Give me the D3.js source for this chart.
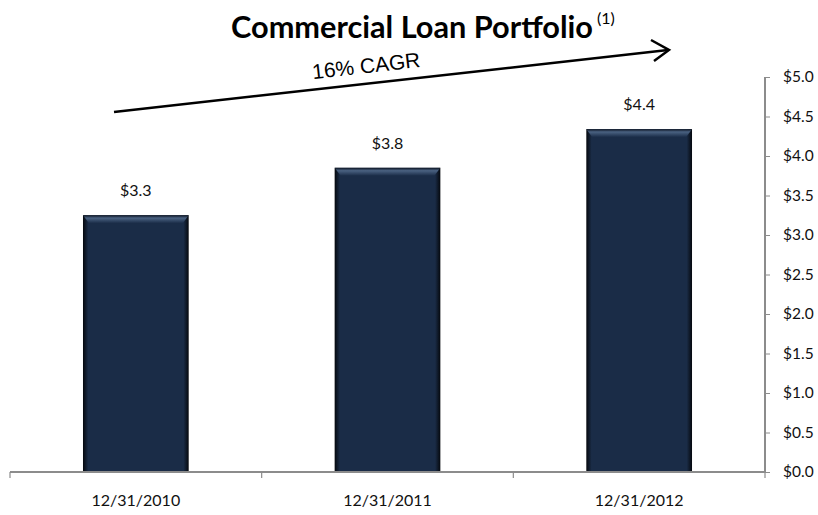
<!DOCTYPE html>
<html>
<head>
<meta charset="utf-8">
<script src="https://cdn.jsdelivr.net/npm/d3@7"></script>
<style>
  body { margin: 0; background: #fff; }
</style>
</head>
<body>
<svg width="818" height="515" font-family="Lato, 'Open Sans', sans-serif"></svg>
<script>
'use strict'

const categories = ['12/31/2010', '12/31/2011', '12/31/2012'];
const values = [3.25, 3.85, 4.34];
const valueLabels = ['$3.3', '$3.8', '$4.4'];
const yTicks = [0, 0.5, 1, 1.5, 2, 2.5, 3, 3.5, 4, 4.5, 5];

const svg = d3.select('svg');
const plotLeft = 10, plotRight = 765, plotTop = 77, plotBottom = 472;

const x = d3.scaleBand().domain(categories).range([plotLeft, plotRight]).paddingInner(0.58).paddingOuter(0.29);
const y = d3.scaleLinear().domain([0, 5]).range([plotBottom, plotTop]);

const defs = svg.append('defs');
const side = defs.append('linearGradient').attr('id', 'side');
side.append('stop').attr('offset', '0%').attr('stop-color', '#05080d');
side.append('stop').attr('offset', '5%').attr('stop-color', '#1a2c47');
side.append('stop').attr('offset', '95%').attr('stop-color', '#1a2c47');
side.append('stop').attr('offset', '100%').attr('stop-color', '#05080d');
const topG = defs.append('linearGradient').attr('id', 'topg').attr('x1', 0).attr('x2', 0).attr('y1', 0).attr('y2', 1);
topG.append('stop').attr('offset', '0%').attr('stop-color', '#0a1220');
topG.append('stop').attr('offset', '35%').attr('stop-color', '#4a6282');
topG.append('stop').attr('offset', '100%').attr('stop-color', '#1a2c47');

// bars
const bars = svg.append('g');
bars.selectAll('rect.body')
  .data(values)
  .join('rect')
  .attr('class', 'body')
  .attr('x', (d, i) => x(categories[i]))
  .attr('y', d => y(d))
  .attr('width', x.bandwidth())
  .attr('height', d => plotBottom - y(d))
  .attr('fill', 'url(#side)');
bars.selectAll('path.bevel')
  .data(values)
  .join('path')
  .attr('class', 'bevel')
  .attr('d', (d, i) => {
    const x0 = x(categories[i]), x1 = x0 + x.bandwidth(), y0 = y(d);
    return `M${x0},${y0}L${x1},${y0}L${x1 - 6},${y0 + 8}L${x0 + 6},${y0 + 8}Z`;
  })
  .attr('fill', 'url(#topg)');

// value labels
svg.selectAll('text.val')
  .data(values)
  .join('text')
  .attr('class', 'val')
  .attr('x', (d, i) => x(categories[i]) + x.bandwidth() / 2)
  .attr('y', d => y(d) - 19)
  .attr('text-anchor', 'middle')
  .attr('font-size', 16)
  .attr('fill', '#111')
  .text((d, i) => valueLabels[i]);

// y axis on the right
const yAxis = svg.append('g')
  .attr('transform', `translate(${plotRight},0)`)
  .call(d3.axisRight(y).tickValues(yTicks).tickSize(5).tickPadding(13)
    .tickFormat(d => '$' + d3.format('.1f')(d)));
yAxis.select('.domain').attr('stroke', '#8c8c8c').attr('stroke-width', 2).attr('d', `M0,${plotTop}V${plotBottom}`);
yAxis.selectAll('.tick line').attr('stroke', '#8c8c8c');
yAxis.selectAll('.tick text').attr('font-size', 15.5).attr('fill', '#111').attr('font-family', 'Lato, sans-serif');

// x axis
const xAxis = svg.append('g').attr('transform', `translate(0,${plotBottom})`);
xAxis.append('line').attr('x1', plotLeft).attr('x2', plotRight).attr('stroke', '#8c8c8c').attr('stroke-width', 2);
const bounds = [plotLeft].concat(categories.map(c => x(c) + x.bandwidth() + x.step() * x.paddingInner() / 2));
bounds[bounds.length - 1] = plotRight;
xAxis.selectAll('line.tk').data(bounds).join('line').attr('class', 'tk')
  .attr('x1', d => d).attr('x2', d => d).attr('y1', 0).attr('y2', 6)
  .attr('stroke', '#8c8c8c').attr('stroke-width', 1.2);
xAxis.selectAll('text').data(categories).join('text')
  .attr('x', d => x(d) + x.bandwidth() / 2)
  .attr('y', 34)
  .attr('text-anchor', 'middle')
  .attr('font-size', 16)
  .attr('fill', '#111')
  .text(d => d);

// title
svg.append('text').attr('x', 593).attr('y', 38).attr('text-anchor', 'end')
  .attr('font-size', 30.7).attr('font-weight', 'bold').attr('fill', '#000')
  .text('Commercial Loan Portfolio');
svg.append('text').attr('x', 597).attr('y', 24).attr('font-size', 16).attr('fill', '#000').text('(1)');

// CAGR arrow
svg.append('line').attr('x1', 114).attr('y1', 112).attr('x2', 668).attr('y2', 50)
  .attr('stroke', '#000').attr('stroke-width', 2.5);
svg.append('path').attr('d', 'M651,40L669,50L654,61')
  .attr('fill', 'none').attr('stroke', '#000').attr('stroke-width', 2.5);
svg.append('text')
  .attr('transform', 'translate(367,73) rotate(-6.5)')
  .attr('text-anchor', 'middle')
  .attr('font-family', 'Liberation Sans, Arial, sans-serif')
  .attr('font-size', 21)
  .attr('fill', '#000')
  .text('16% CAGR');
</script>
</body>
</html>
